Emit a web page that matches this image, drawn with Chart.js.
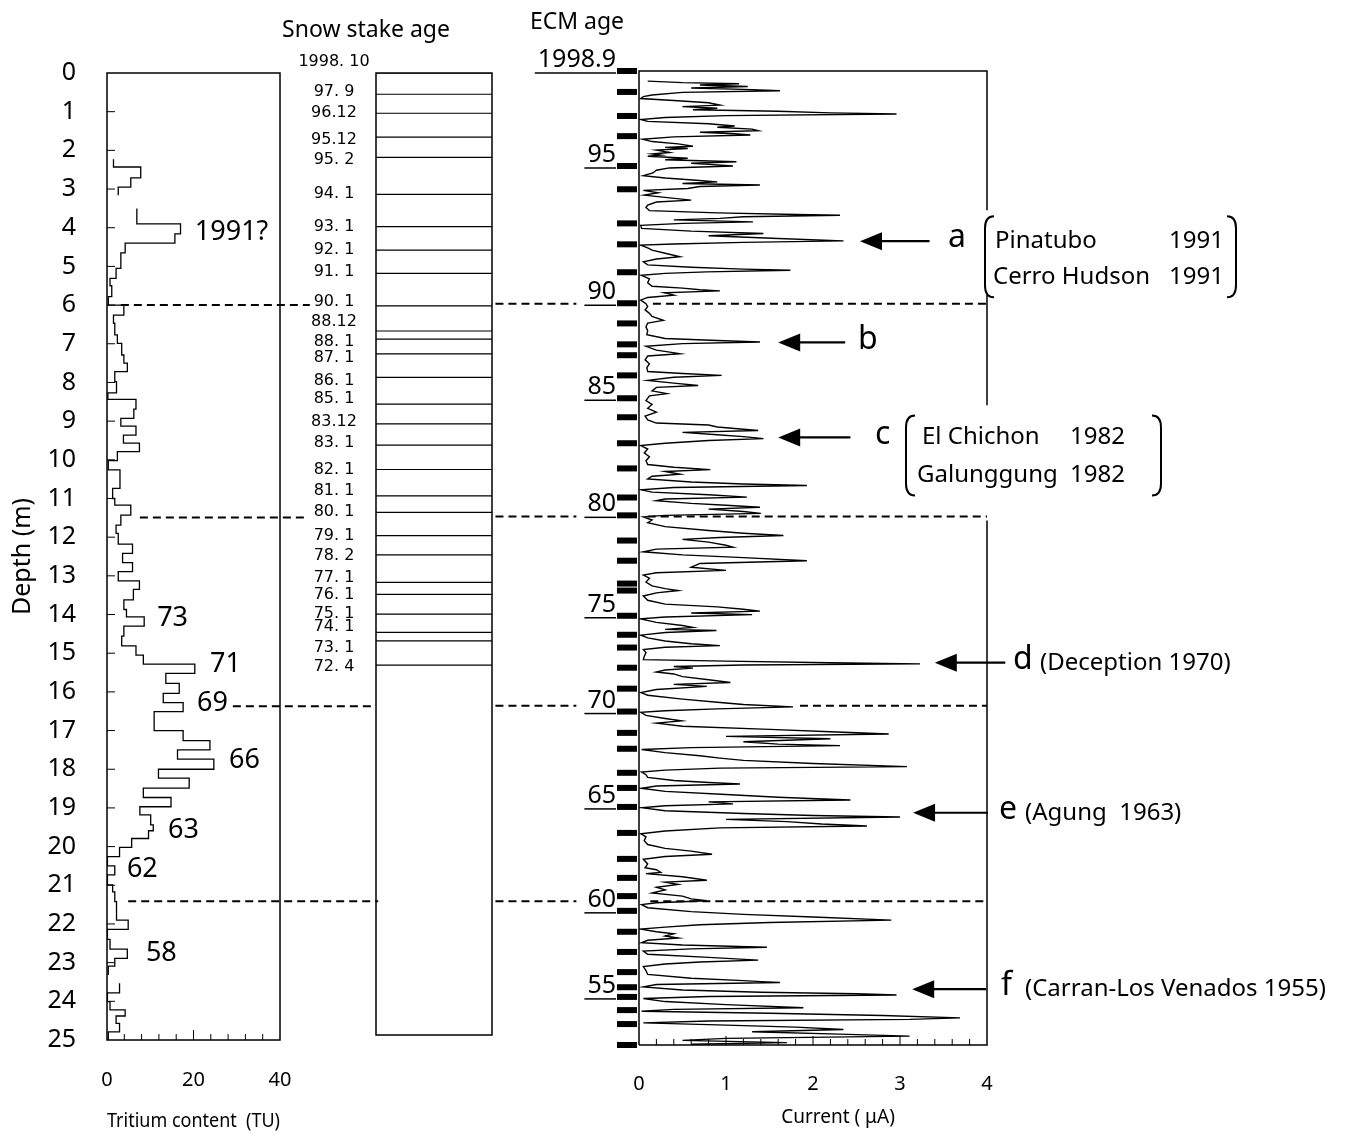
<!DOCTYPE html>
<html>
<head>
<meta charset="utf-8">
<title>Tritium, snow stake and ECM profiles</title>
<script src="https://cdn.jsdelivr.net/npm/chart.js@4.4.1/dist/chart.umd.min.js"></script>
<style>
  html, body { margin: 0; padding: 0; background: #fff; }
  #wrap { position: relative; width: 1351px; height: 1134px; }
  #wrap canvas { position: absolute; left: 0; top: 0; }
</style>
</head>
<body>
<div id="wrap">
  <canvas id="tritium" width="1351" height="1134"></canvas>
  <canvas id="stake" width="1351" height="1134"></canvas>
  <canvas id="ecm" width="1351" height="1134"></canvas>
</div>
<script>
// ---- tritium step profile (depth in m, TU)
var tuTop = [2.23, 2.43, 2.71, 2.95,
  3.5, 3.9, 4.16, 4.4, 4.65, 5.05, 5.31, 5.5, 5.78, 6.0, 6.26, 6.47, 6.77, 6.99, 7.29, 7.5,
  7.72, 7.98, 8.27, 8.44, 8.69, 8.93, 9.13, 9.36, 9.57, 9.79, 10.02, 10.26, 10.74, 11.0, 11.17, 11.43,
  11.69, 11.9, 12.18, 12.42, 12.66, 12.89, 13.13, 13.35, 13.62, 13.87, 14.06, 14.3, 14.56, 14.81, 15.05,
  15.28, 15.52, 15.78, 16.04, 16.28, 16.51, 17.0, 17.26, 17.5, 17.74, 18.0, 18.23, 18.49, 18.73, 18.97,
  19.18, 19.44, 19.59, 19.79, 20.02, 20.26, 20.5, 20.73, 20.99, 21.17, 21.42, 21.9, 22.14, 22.4, 22.65,
  22.89, 23.09,
  23.53, 23.78, 24.01, 24.22, 24.38, 24.57, 24.79];
var tuBottom = [2.43, 2.71, 2.95, 3.16,
  3.9, 4.16, 4.4, 4.65, 5.05, 5.31, 5.5, 5.78, 6.0, 6.26, 6.47, 6.77, 6.99, 7.29, 7.5, 7.72,
  7.98, 8.27, 8.44, 8.69, 8.93, 9.13, 9.36, 9.57, 9.79, 10.02, 10.26, 10.74, 11.0, 11.17, 11.43, 11.69,
  11.9, 12.18, 12.42, 12.66, 12.89, 13.13, 13.35, 13.62, 13.87, 14.06, 14.3, 14.56, 14.81, 15.05, 15.28,
  15.52, 15.78, 16.04, 16.28, 16.51, 17.0, 17.26, 17.5, 17.74, 18.0, 18.23, 18.49, 18.73, 18.97, 19.18,
  19.44, 19.59, 19.79, 20.02, 20.26, 20.5, 20.73, 20.99, 21.17, 21.42, 21.9, 22.14, 22.4, 22.65, 22.89,
  23.09, 23.32,
  23.78, 24.01, 24.22, 24.38, 24.57, 24.79, 25.0];
var tuValue = [1.5, 7.8, 5.5, 2.6,
  6.9, 17.0, 15.7, 4.2, 3.2, 2.1, 0.7, 1.1, 0.3, 3.9, 1.5, 1.8, 2.4, 3.4, 3.9, 4.7,
  1.8, 2.2, 0.2, 6.7, 6.2, 3.2, 6.7, 3.8, 7.5, 2.4, 0.3, 3.0, 1.3, 1.8, 5.5, 3.2,
  2.1, 2.6, 5.9, 3.6, 5.9, 2.6, 7.5, 6.1, 3.9, 4.5, 8.6, 3.9, 3.4, 6.7, 8.4,
  20.3, 13.6, 16.7, 13.0, 17.6, 10.9, 17.6, 23.8, 16.3, 24.7, 11.9, 19.0, 8.4, 14.8, 7.6,
  10.1, 10.7, 9.6, 5.7, 2.9, 0.1, 1.8, 0.1, 1.3, 1.8, 2.2, 4.9, 0.1, 0.7, 4.7,
  1.8, 0.3,
  2.9, 0.1, 0.7, 4.2, 2.1, 2.9, 0.3];

// year labels written on the tritium panel
var tuNoteText = ['1991?', '73', '71', '69', '66', '63', '62', '58'];
var tuNoteX = [20.3, 11.6, 23.8, 20.8, 28.2, 14.1, 4.6, 9.0];
var tuNoteDepth = [4.11, 14.09, 15.3, 16.29, 17.76, 19.57, 20.6, 22.75];

// ---- snow stake ages
var stakeLabel = ['1998. 10', '97. 9', '96.12', '95.12', '95. 2', '94. 1', '93. 1', '92. 1', '91. 1',
  '90. 1', '88.12', '88. 1', '87. 1', '86. 1', '85. 1', '83.12', '83. 1', '82. 1', '81. 1', '80. 1',
  '79. 1', '78. 2', '77. 1', '76. 1', '75. 1', '74. 1', '73. 1', '72. 4'];
var stakeDepth = [0, 0.55, 1.04, 1.66, 2.18, 3.14, 3.97, 4.58, 5.18,
  6.02, 6.67, 6.88, 7.26, 7.87, 8.56, 9.07, 9.62, 10.25, 10.93, 11.36,
  11.96, 12.46, 13.17, 13.48, 13.99, 14.46, 14.68, 15.31];
var stakeLabelDepth = [-0.28, 0.49, 1.02, 1.73, 2.25, 3.13, 3.97, 4.56, 5.13,
  5.91, 6.43, 6.95, 7.37, 7.95, 8.43, 9.02, 9.57, 10.26, 10.8, 11.34,
  11.96, 12.48, 13.06, 13.49, 13.97, 14.33, 14.85, 15.36];

// ---- dated depth horizons (dashed) and how far each dash run goes
var horizonDepth = [6.0, 11.49, 16.37, 21.41];
var horizonStartTU = [3.2, 7.6, 29.1, 4.9];
var horizonEndTU = [46.9, 45.8, 62.0, 62.7];
var horizonStartCurrent = [0.16, 0.1, 1.85, 0.13];

// ---- ECM age scale (year boundaries vs depth)
var ecmAgeYear = [1998.9, 1998, 1997, 1996, 1995, 1994, 1993, 1992, 1991, 1990, 1989, 1988, 1987, 1986,
  1985, 1984, 1983, 1982, 1981, 1980, 1979, 1978, 1977, 1976, 1975, 1974, 1973, 1972, 1971, 1970,
  1969, 1968, 1967, 1966, 1965, 1964, 1963, 1962, 1961, 1960, 1959, 1958, 1957, 1956, 1955, 1954,
  1953, 1952];
var ecmAgeDepth = [0, 0.54, 1.16, 1.68, 2.45, 3.05, 3.93, 4.47, 5.19, 5.99, 6.51, 7.05, 7.33, 7.85,
  8.44, 8.93, 9.6, 10.25, 11.0, 11.46, 12.11, 12.63, 13.22, 13.4, 14.05, 14.54, 14.87, 15.39, 15.93, 16.52,
  17.07, 17.48, 18.1, 18.49, 18.98, 19.65, 20.32, 20.81, 21.28, 21.66, 22.2, 22.72, 23.24, 23.63, 23.88, 24.22,
  24.58, 25.12];

// ---- ECM current trace: [depth m, current uA]
var ecmTrace = [
  [0.26, 0.10], [0.30, 0.5], [0.33, 1.15], [0.36, 0.7], [0.40, 1.25], [0.44, 0.6], [0.48, 1.3], [0.51, 1.62],
  [0.55, 0.5], [0.62, 0.15], [0.66, 0.05], [0.71, 0.02], [0.76, 0.4], [0.82, 0.8], [0.88, 0.93], [0.92, 0.5],
  [0.96, 0.9], [1.0, 0.62], [1.04, 1.6], [1.08, 2.2], [1.11, 2.96], [1.15, 1.0], [1.2, 0.3], [1.25, 0.02],
  [1.3, 0.1], [1.36, 0.8], [1.42, 1.1], [1.45, 0.9], [1.5, 1.3], [1.54, 1.37], [1.58, 0.7], [1.62, 1.1],
  [1.65, 1.28], [1.7, 0.4], [1.76, 0.04], [1.82, 0.15], [1.88, 0.45], [1.94, 0.62], [1.97, 0.3], [2.0, 0.56],
  [2.04, 0.2], [2.1, 0.35], [2.14, 0.15], [2.17, 0.25], [2.2, 0.1], [2.25, 0.56], [2.29, 0.3], [2.34, 1.12],
  [2.38, 0.6], [2.42, 0.9], [2.45, 1.08], [2.5, 0.35], [2.56, 0.2], [2.63, 0.16], [2.7, 0.05],
  [2.76, 0.3], [2.81, 0.62], [2.86, 0.9], [2.9, 0.5], [2.94, 1.39], [2.98, 0.7], [3.03, 0.56], [3.08, 0.05],
  [3.14, 0.22], [3.2, 0.06], [3.26, 0.3], [3.33, 0.6], [3.38, 0.2], [3.46, 0.1], [3.52, 0.08], [3.6, 0.12],
  [3.66, 0.9], [3.70, 1.81], [3.72, 2.31], [3.76, 1.2], [3.8, 0.93], [3.84, 0.4], [3.89, 1.31], [3.93, 0.5],
  [3.98, 0.02], [4.06, 0.03], [4.13, 0.6], [4.19, 1.43], [4.25, 0.8], [4.32, 1.6], [4.38, 2.35], [4.42, 1.2],
  [4.46, 0.4], [4.49, 0.02], [4.56, 0.1], [4.62, 0.15], [4.7, 0.3], [4.79, 0.47], [4.85, 0.2], [4.92, 0.05],
  [5.0, 0.1], [5.06, 0.6], [5.11, 1.2], [5.14, 1.74], [5.18, 0.78], [5.22, 0.3], [5.27, 0.03], [5.36, 0.12],
  [5.46, 0.1], [5.55, 0.15], [5.6, 0.5], [5.64, 0.7], [5.67, 0.93], [5.72, 0.29], [5.78, 0.4], [5.84, 0.1],
  [5.91, 0.02],
  [6.0, 0.08], [6.08, 0.1], [6.16, 0.07], [6.25, 0.12], [6.33, 0.15], [6.43, 0.28], [6.5, 0.1], [6.6, 0.08],
  [6.7, 0.1], [6.8, 0.09], [6.9, 0.3], [6.95, 0.9], [6.99, 1.39], [7.03, 0.5], [7.1, 0.08], [7.2, 0.2],
  [7.29, 0.47], [7.35, 0.1], [7.45, 0.07], [7.55, 0.12], [7.65, 0.09], [7.75, 0.1], [7.8, 0.5], [7.85, 0.95],
  [7.9, 0.4],
  [7.98, 0.1], [8.05, 0.4], [8.11, 0.68], [8.16, 0.2], [8.25, 0.15], [8.32, 0.32], [8.38, 0.12], [8.5, 0.08],
  [8.6, 0.15], [8.7, 0.1], [8.8, 0.2], [8.9, 0.07], [9.0, 0.1], [9.08, 0.2], [9.13, 0.8], [9.18, 0.9],
  [9.22, 1.1], [9.27, 1.37], [9.32, 0.5], [9.38, 0.9], [9.43, 1.2], [9.48, 1.43], [9.53, 0.8], [9.6, 0.3],
  [9.66, 0.02], [9.75, 0.1], [9.85, 0.06], [9.95, 0.12], [10.05, 0.08], [10.15, 0.1], [10.22, 0.4], [10.28, 0.82],
  [10.33, 0.3], [10.4, 0.47], [10.45, 0.15], [10.52, 0.1], [10.6, 0.6], [10.65, 1.2], [10.69, 1.93], [10.74, 0.4],
  [10.8, 0.02], [10.86, 0.15], [10.93, 0.8], [10.99, 1.24], [11.04, 0.3], [11.08, 0.2], [11.15, 0.6], [11.2, 1.0],
  [11.25, 1.39], [11.3, 0.8], [11.36, 1.2], [11.41, 1.4], [11.46, 0.3], [11.5, 0.05],
  [11.58, 0.15], [11.65, 0.1], [11.75, 0.3], [11.85, 0.8], [11.92, 1.2], [11.98, 1.66], [12.03, 0.93], [12.08, 0.5],
  [12.15, 0.8], [12.23, 1.0], [12.28, 1.08], [12.33, 0.2], [12.4, 0.05], [12.48, 0.5], [12.55, 1.2], [12.63, 1.93],
  [12.7, 0.7], [12.8, 0.6], [12.88, 1.0], [12.94, 0.2], [13.0, 0.05], [13.08, 0.12], [13.18, 0.08], [13.28, 0.15],
  [13.35, 0.3], [13.4, 0.45], [13.46, 0.2], [13.54, 0.05], [13.65, 0.1], [13.75, 0.3], [13.82, 0.9], [13.88, 1.2],
  [13.93, 1.39], [13.98, 0.6], [14.02, 1.3], [14.08, 0.3], [14.13, 0.02], [14.22, 0.2], [14.3, 0.5], [14.35, 0.62],
  [14.4, 0.3], [14.43, 0.89], [14.48, 0.3], [14.55, 0.02], [14.62, 0.1], [14.7, 0.3], [14.77, 0.6], [14.82, 0.93],
  [14.86, 0.3], [14.92, 0.05], [15.0, 0.08], [15.1, 0.06], [15.18, 0.05], [15.22, 1.0], [15.26, 2.2], [15.29, 3.23],
  [15.32, 1.2], [15.36, 0.4], [15.4, 0.62], [15.45, 0.3], [15.5, 0.2], [15.55, 0.4], [15.62, 0.5], [15.7, 0.8],
  [15.77, 1.05], [15.82, 0.4], [15.87, 0.78], [15.95, 0.2], [16.03, 0.02], [16.1, 0.1], [16.2, 0.5], [16.28, 0.9],
  [16.34, 1.2], [16.4, 1.77], [16.45, 0.9], [16.5, 0.3], [16.54, 0.02],
  [16.62, 0.08], [16.7, 0.3], [16.76, 0.49], [16.82, 0.2], [16.9, 0.5], [16.98, 1.5], [17.04, 2.2], [17.1, 2.87],
  [17.16, 1.0], [17.22, 2.2], [17.3, 1.2], [17.36, 1.6], [17.4, 2.31], [17.45, 0.6], [17.5, 0.03], [17.58, 0.3],
  [17.66, 0.7], [17.72, 0.93], [17.78, 1.2], [17.86, 2.0], [17.94, 3.08], [17.98, 0.93], [18.03, 0.3], [18.08, 0.03],
  [18.15, 0.08], [18.22, 0.1], [18.3, 0.4], [18.35, 0.8], [18.39, 1.16], [18.44, 0.2], [18.5, 0.03], [18.58, 0.3],
  [18.66, 1.0], [18.73, 1.6], [18.8, 2.43], [18.85, 0.8], [18.9, 1.08], [18.95, 0.3], [19.0, 0.03], [19.08, 0.3],
  [19.15, 1.2], [19.2, 2.0], [19.24, 3.0], [19.3, 1.0], [19.36, 1.7], [19.42, 2.1], [19.47, 2.62], [19.52, 0.93],
  [19.6, 0.3], [19.67, 0.02], [19.75, 0.08], [19.85, 0.06], [19.95, 0.1], [20.05, 0.3], [20.12, 0.6], [20.2, 0.84],
  [20.26, 0.3], [20.33, 0.05], [20.45, 0.1], [20.55, 0.07], [20.6, 0.2], [20.67, 0.25], [20.7, 0.08], [20.78, 0.5],
  [20.87, 0.78], [20.92, 0.3], [20.98, 0.45], [21.05, 0.2], [21.12, 0.3], [21.2, 0.15], [21.28, 0.5], [21.35, 0.6],
  [21.4, 0.78], [21.45, 0.2], [21.5, 0.03],
  [21.58, 0.1], [21.68, 0.6], [21.75, 1.2], [21.82, 2.0], [21.9, 2.9], [21.96, 1.5], [22.02, 0.7], [22.08, 0.3],
  [22.13, 0.02], [22.2, 0.2], [22.25, 0.4], [22.31, 0.3], [22.36, 0.45], [22.42, 0.1], [22.48, 0.03], [22.54, 0.5],
  [22.6, 1.47], [22.64, 0.6], [22.7, 0.05], [22.78, 0.1], [22.86, 0.8], [22.93, 1.37], [22.98, 0.7], [23.03, 0.3],
  [23.1, 0.05], [23.2, 0.08], [23.3, 0.1], [23.4, 0.6], [23.46, 1.2], [23.51, 1.62], [23.56, 0.2], [23.62, 0.05],
  [23.7, 0.5], [23.76, 1.4], [23.8, 2.5], [23.83, 2.96], [23.87, 0.8], [23.92, 0.05], [24.0, 0.3], [24.08, 1.0],
  [24.16, 1.89], [24.2, 0.4], [24.25, 0.03], [24.3, 1.5], [24.36, 2.8], [24.42, 3.69], [24.46, 3.11], [24.5, 0.8],
  [24.55, 0.05], [24.6, 0.9], [24.66, 1.8], [24.72, 2.35], [24.78, 1.3], [24.84, 2.3], [24.89, 3.11], [24.95, 1.0],
  [25.0, 0.5], [25.06, 1.7], [25.1, 0.6]
];

// volcanic signals marked with arrows
var ecmNoteDepth = [4.39, 7.0, 9.45, 15.26, 19.13, 23.68];
var ecmNoteHead = [2.54, 1.6, 1.6, 3.4, 3.15, 3.14];
var ecmNoteTail = [3.34, 2.37, 2.43, 4.21, 4.01, 3.99];

Chart.defaults.font.family = '"Noto Sans", sans-serif';
Chart.defaults.color = '#000';

function tritiumSteps() {
  var pts = [];
  for (var i = 0; i < tuValue.length; i++) {
    if (i > 0 && tuTop[i] !== tuBottom[i - 1]) pts.push({x: null, y: null});
    pts.push({x: tuValue[i], y: tuTop[i]});
    pts.push({x: tuValue[i], y: tuBottom[i]});
  }
  return pts;
}

function dashRows(starts, ends) {
  var pts = [];
  horizonDepth.forEach(function (d, i) {
    pts.push({x: starts[i], y: d}, {x: ends[i], y: d}, {x: null, y: null});
  });
  return pts;
}

function arrowLeft(ctx, xHead, xTail, y) {
  ctx.beginPath();
  ctx.moveTo(xTail, y);
  ctx.lineTo(xHead + 18, y);
  ctx.lineWidth = 2.2;
  ctx.stroke();
  ctx.beginPath();
  ctx.moveTo(xHead, y);
  ctx.lineTo(xHead + 22, y - 9);
  ctx.lineTo(xHead + 22, y + 9);
  ctx.closePath();
  ctx.fill();
}

function bracket(ctx, x, top, bottom, dir) {
  ctx.beginPath();
  ctx.moveTo(x + 9 * dir, top);
  ctx.quadraticCurveTo(x, top, x, top + 12);
  ctx.lineTo(x, bottom - 12);
  ctx.quadraticCurveTo(x, bottom, x + 9 * dir, bottom);
  ctx.lineWidth = 2;
  ctx.stroke();
}

var base = {
  responsive: false,
  animation: false,
  events: [],
  plugins: { legend: { display: false }, tooltip: { enabled: false } }
};

var tritiumDecor = {
  id: 'tritiumDecor',
  afterDatasetsDraw: function (chart) {
    var ctx = chart.ctx, a = chart.chartArea, xs = chart.scales.x, ys = chart.scales.y;
    ctx.save();
    ctx.strokeStyle = '#000';
    ctx.fillStyle = '#000';
    ctx.lineWidth = 1.5;
    ctx.strokeRect(a.left, a.top, a.right - a.left, a.bottom - a.top);
    ctx.lineWidth = 1;
    ctx.beginPath();
    for (var d = 1; d < 25; d++) {
      var y = ys.getPixelForValue(d);
      ctx.moveTo(a.left, y); ctx.lineTo(a.left + 8, y);
    }
    for (var t = 4; t < 40; t += 4) {
      var x = xs.getPixelForValue(t);
      ctx.moveTo(x, a.bottom); ctx.lineTo(x, a.bottom - (t === 20 ? 10 : 6));
    }
    ctx.stroke();
    ctx.font = '27px "Noto Sans"';
    ctx.textAlign = 'left';
    ctx.textBaseline = 'middle';
    tuNoteText.forEach(function (s, i) {
      ctx.fillText(s, xs.getPixelForValue(tuNoteX[i]), ys.getPixelForValue(tuNoteDepth[i]));
    });
    ctx.restore();
  }
};

new Chart(document.getElementById('tritium'), {
  type: 'line',
  data: { datasets: [
    { data: tritiumSteps(), borderColor: '#000', borderWidth: 1.3, pointRadius: 0, tension: 0 },
    { data: dashRows(horizonStartTU, horizonEndTU), borderColor: '#000', borderWidth: 2,
      borderDash: [8, 5], pointRadius: 0, clip: false }
  ]},
  options: Object.assign({}, base, {
    layout: { padding: { left: 0, top: 73, right: 1071, bottom: 0 } },
    scales: {
      x: {
        type: 'linear', min: 0, max: 40,
        grid: { display: false, drawTicks: false }, border: { display: false },
        ticks: { stepSize: 20, padding: 28, font: { size: 20 } },
        title: { display: true, text: 'Tritium content  (TU)', font: { size: 19 }, padding: { top: 0, bottom: 1 } },
        afterFit: function (s) { s.height = 94; }
      },
      y: {
        type: 'linear', min: 0, max: 25, reverse: true,
        grid: { display: false, drawTicks: false }, border: { display: false },
        ticks: { stepSize: 1, padding: 31, font: { size: 25 } },
        title: { display: true, text: 'Depth (m)', font: { size: 25 }, padding: { top: 8, bottom: 0 } },
        afterFit: function (s) { s.width = 107; }
      }
    }
  }),
  plugins: [tritiumDecor]
});

var stakeDecor = {
  id: 'stakeDecor',
  afterDatasetsDraw: function (chart) {
    var ctx = chart.ctx, a = chart.chartArea, ys = chart.scales.y;
    ctx.save();
    ctx.strokeStyle = '#000';
    ctx.fillStyle = '#000';
    ctx.lineWidth = 1.5;
    ctx.strokeRect(a.left, a.top, a.right - a.left, a.bottom - a.top);
    ctx.font = '16px "DejaVu Sans"';
    ctx.textAlign = 'center';
    ctx.textBaseline = 'middle';
    stakeLabel.forEach(function (s, i) {
      ctx.fillText(s, a.left - 42, ys.getPixelForValue(stakeLabelDepth[i]));
    });
    ctx.font = '23px "Noto Sans"';
    ctx.fillText('Snow stake age', 366, 30);
    ctx.restore();
  }
};

var stakeRows = [];
stakeDepth.forEach(function (d) {
  stakeRows.push({x: 0, y: d}, {x: 1, y: d}, {x: null, y: null});
});

new Chart(document.getElementById('stake'), {
  type: 'line',
  data: { datasets: [
    { data: stakeRows, borderColor: '#000', borderWidth: 1.2, pointRadius: 0 }
  ]},
  options: Object.assign({}, base, {
    layout: { padding: { left: 376, top: 73, right: 859, bottom: 99 } },
    scales: {
      x: { type: 'linear', min: 0, max: 1, display: false },
      y: { type: 'linear', min: 0, max: 24.87, reverse: true, display: false }
    }
  }),
  plugins: [stakeDecor]
});

var ecmDecor = {
  id: 'ecmDecor',
  afterDatasetsDraw: function (chart) {
    var ctx = chart.ctx, a = chart.chartArea, xs = chart.scales.x, ys = chart.scales.y;
    ctx.save();
    ctx.strokeStyle = '#000';
    ctx.fillStyle = '#000';
    ctx.lineWidth = 1.5;
    // frame, right side broken behind the bracketed notes
    ctx.beginPath();
    ctx.moveTo(a.left, a.bottom); ctx.lineTo(a.left, a.top); ctx.lineTo(a.right, a.top);
    ctx.lineTo(a.right, ys.getPixelForValue(3.59));
    ctx.moveTo(a.right, ys.getPixelForValue(5.78)); ctx.lineTo(a.right, ys.getPixelForValue(8.62));
    ctx.moveTo(a.right, ys.getPixelForValue(11.59)); ctx.lineTo(a.right, a.bottom); ctx.lineTo(a.left, a.bottom);
    ctx.stroke();
    // inner ticks on the current axis
    ctx.lineWidth = 1;
    ctx.beginPath();
    for (var k = 1; k < 20; k++) {
      var x = xs.getPixelForValue(k * 0.2);
      ctx.moveTo(x, a.bottom); ctx.lineTo(x, a.bottom - (k % 5 === 0 ? 9 : 6));
    }
    ctx.stroke();
    // ECM age bars and labels
    ctx.font = '25px "Noto Sans"';
    ctx.textAlign = 'right';
    ctx.textBaseline = 'alphabetic';
    ecmAgeYear.forEach(function (yr, i) {
      var y = ys.getPixelForValue(ecmAgeDepth[i]);
      ctx.fillRect(a.left - 22, y - 3, 20, 6);
      var first = i === 0;
      if (first || yr % 5 === 0) {
        var txt = first ? '1998.9' : String(yr % 100);
        var right = a.left - 23;
        var w = ctx.measureText(txt).width;
        ctx.fillText(txt, right, y - 4);
        ctx.lineWidth = 1.5;
        ctx.beginPath();
        ctx.moveTo(right - w - 3, y + 2); ctx.lineTo(right, y + 2);
        ctx.stroke();
      }
    });
    ctx.textAlign = 'center';
    ctx.textBaseline = 'middle';
    ctx.font = '23px "Noto Sans"';
    ctx.fillText('ECM age', 577, 22);
    ctx.font = '19px "Noto Sans"';
    ctx.fillText('Current ( \u03bcA)', 838, 1118);

    // arrows and volcano notes
    var ys_ = ecmNoteDepth.map(function (d) { return ys.getPixelForValue(d); });
    ecmNoteDepth.forEach(function (d, i) {
      arrowLeft(ctx, xs.getPixelForValue(ecmNoteHead[i]), xs.getPixelForValue(ecmNoteTail[i]), ys_[i]);
    });
    ctx.textAlign = 'left';
    ctx.font = '32px "Noto Sans"';
    var letters = ['a', 'b', 'c', 'd', 'e', 'f'];
    var letterX = [948, 858, 875, 1013, 999, 1001];
    letters.forEach(function (l, i) { ctx.fillText(l, letterX[i], ys_[i] - 3); });

    ctx.font = '24px "Noto Sans"';
    // a
    bracket(ctx, 985, ys_[0] - 25, ys_[0] + 56, 1);
    bracket(ctx, 1236, ys_[0] - 25, ys_[0] + 56, -1);
    ctx.fillText('Pinatubo', 995, ys_[0]);
    ctx.fillText('Cerro Hudson', 993, ys_[0] + 36);
    ctx.textAlign = 'right';
    ctx.fillText('1991', 1224, ys_[0]);
    ctx.fillText('1991', 1224, ys_[0] + 36);
    // c
    ctx.textAlign = 'left';
    bracket(ctx, 906, ys_[2] - 22, ys_[2] + 58, 1);
    bracket(ctx, 1161, ys_[2] - 22, ys_[2] + 58, -1);
    ctx.fillText('El Chichon', 922, ys_[2]);
    ctx.fillText('Galunggung', 917, ys_[2] + 38);
    ctx.fillText('1982', 1070, ys_[2]);
    ctx.fillText('1982', 1070, ys_[2] + 38);
    // d, e, f
    ctx.fillText('(Deception 1970)', 1040, ys_[3]);
    ctx.fillText('(Agung  1963)', 1025, ys_[4]);
    ctx.fillText('(Carran-Los Venados 1955)', 1025, ys_[5]);
    ctx.restore();
  }
};

var ecmPoints = ecmTrace.map(function (p) { return {x: p[1], y: p[0]}; });
var ecmDashes = [];
horizonDepth.forEach(function (d, i) {
  ecmDashes.push({x: -1.65, y: d}, {x: -0.72, y: d}, {x: null, y: null});
  ecmDashes.push({x: horizonStartCurrent[i], y: d}, {x: 4, y: d}, {x: null, y: null});
});

new Chart(document.getElementById('ecm'), {
  type: 'line',
  data: { datasets: [
    { data: ecmPoints, borderColor: '#000', borderWidth: 1.4, pointRadius: 0, tension: 0 },
    { data: ecmDashes, borderColor: '#000', borderWidth: 2, borderDash: [8, 5], pointRadius: 0, clip: false }
  ]},
  options: Object.assign({}, base, {
    layout: { padding: { left: 639, top: 71, right: 364, bottom: 0 } },
    scales: {
      x: {
        type: 'linear', min: 0, max: 4,
        grid: { display: false, drawTicks: false }, border: { display: false },
        ticks: { stepSize: 1, padding: 27, font: { size: 20 } },
        afterFit: function (s) { s.height = 89; }
      },
      y: { type: 'linear', min: 0, max: 25.12, reverse: true, display: false }
    }
  }),
  plugins: [ecmDecor]
});
</script>
</body>
</html>
